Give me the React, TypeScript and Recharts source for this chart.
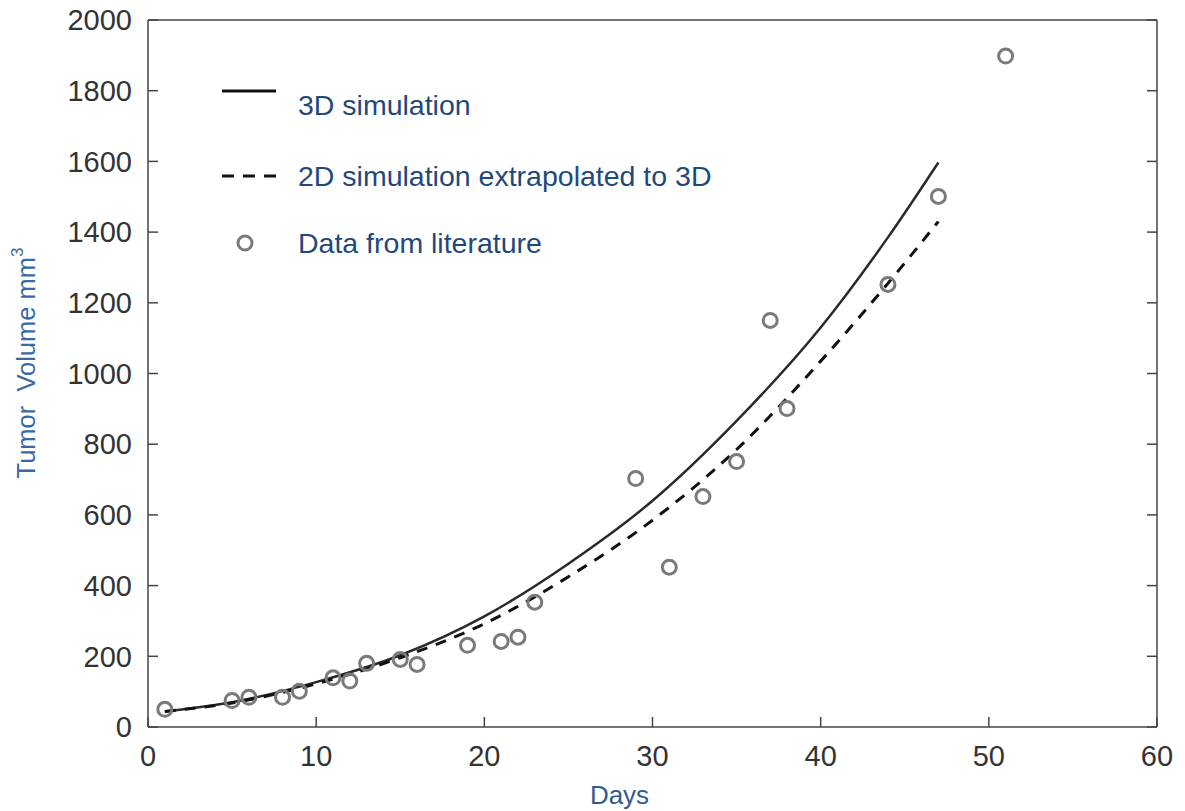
import React from "react";
import {
  ComposedChart,
  Line,
  Scatter,
  XAxis,
  YAxis,
  Legend,
} from "recharts";

// Literature data (days, tumor volume mm^3)
const litDays = [1, 5, 6, 8, 9, 11, 12, 13, 15, 16, 19, 21, 22, 23, 29, 31, 33, 35, 37, 38, 44, 47, 51];
const litVolumes = [50, 75, 84, 84, 101, 139, 130, 180, 191, 177, 231, 242, 254, 353, 703, 452, 652, 751, 1150, 901, 1252, 1501, 1898];

// Simulation curves
const simDays = [1, 5, 10, 15, 20, 25, 30, 35, 40, 44, 47];
const sim3D = [44, 70, 127, 203, 313, 462, 640, 866, 1130, 1385, 1597];
const sim2Dto3D = [44, 68, 122, 196, 292, 425, 585, 785, 1035, 1255, 1430];

// Axis ticks
const xTicks = [0, 10, 20, 30, 40, 50, 60];
const yTicks = [0, 200, 400, 600, 800, 1000, 1200, 1400, 1600, 1800, 2000];

const litData = litDays.map((d, i) => ({ day: d, volume: litVolumes[i] }));
const sim3DData = simDays.map((d, i) => ({ day: d, v: sim3D[i] }));
const sim2DData = simDays.map((d, i) => ({ day: d, v: sim2Dto3D[i] }));

const FONT = "'Liberation Sans', Arial, Helvetica, sans-serif";
const AXIS_COLOR = "#444";
const TICK_COLOR = "#333";
const MARKER_COLOR = "#7a7a7a";
const LEGEND_TEXT = "#1f497d";
const LEGEND_FS = 28.5;

const Marker = (props: any) => {
  const { cx, cy } = props;
  if (cx == null || cy == null) return null;
  return <circle cx={cx} cy={cy} r={7} fill="none" stroke={MARKER_COLOR} strokeWidth={3} />;
};

const LegendContent = () => (
  <svg width={560} height={200} style={{ overflow: "visible" }}>
    <line x1={0} y1={21} x2={54} y2={21} stroke="#111" strokeWidth={3} />
    <text x={76} y={35} dominantBaseline="central" fontFamily={FONT} fontSize={LEGEND_FS} fill={LEGEND_TEXT}>
      3D simulation
    </text>
    <line x1={0} y1={106} x2={54} y2={106} stroke="#111" strokeWidth={3} strokeDasharray="12 9" />
    <text x={76} y={106} dominantBaseline="central" fontFamily={FONT} fontSize={LEGEND_FS} fill={LEGEND_TEXT}>
      2D simulation extrapolated to 3D
    </text>
    <circle cx={23} cy={173} r={7} fill="none" stroke={MARKER_COLOR} strokeWidth={3} />
    <text x={76} y={173} dominantBaseline="central" fontFamily={FONT} fontSize={LEGEND_FS} fill={LEGEND_TEXT}>
      Data from literature
    </text>
  </svg>
);

export default function App() {
  return (
    <div style={{ position: "absolute", left: 0, top: 0, width: 1185, height: 811, background: "#fff" }}>
      <ComposedChart
        width={1185}
        height={811}
        margin={{ top: 0, right: 0, bottom: 0, left: 0 }}
        style={{ fontFamily: FONT }}
      >
        <XAxis
          xAxisId={0}
          dataKey="day"
          type="number"
          domain={[0, 60]}
          ticks={xTicks}
          height={84}
          tickSize={-10}
          tickMargin={28}
          stroke={AXIS_COLOR}
          strokeWidth={1.5}
          tick={{ fill: TICK_COLOR, fontSize: 29, fontFamily: FONT }}
          allowDataOverflow
          label={{
            content: (p: any) => {
              const vb = p.viewBox || { x: 148, y: 727, width: 1009, height: 84 };
              return (
                <text
                  x={vb.x + vb.width / 2 - 33}
                  y={795}
                  textAnchor="middle"
                  dominantBaseline="central"
                  fontFamily={FONT}
                  fontSize={26}
                  fill="#2f5b90"
                >
                  Days
                </text>
              );
            },
          }}
        />
        <XAxis
          xAxisId="top"
          orientation="top"
          type="number"
          domain={[0, 60]}
          ticks={xTicks}
          height={20}
          tickSize={-10}
          tickFormatter={() => ""}
          stroke={AXIS_COLOR}
          strokeWidth={1.5}
          allowDataOverflow
        />
        <YAxis
          yAxisId={0}
          type="number"
          domain={[0, 2000]}
          ticks={yTicks}
          width={148}
          tickSize={-10}
          tickMargin={26}
          stroke={AXIS_COLOR}
          strokeWidth={1.5}
          tick={{ fill: TICK_COLOR, fontSize: 29, fontFamily: FONT }}
          allowDataOverflow
          label={{
            content: () => (
              <text
                x={0}
                y={0}
                transform="translate(26, 363) rotate(-90)"
                textAnchor="middle"
                dominantBaseline="central"
                fontFamily={FONT}
                fontSize={25.5}
                fill="#3a6aa3"
              >
                {"Tumor\u00A0 Volume mm"}
                <tspan dy={-9} fontSize={17}>3</tspan>
              </text>
            ),
          }}
        />
        <YAxis
          yAxisId="right"
          orientation="right"
          type="number"
          domain={[0, 2000]}
          ticks={yTicks}
          width={28}
          tickSize={-10}
          tickFormatter={() => ""}
          stroke={AXIS_COLOR}
          strokeWidth={1.5}
          allowDataOverflow
        />
        <Legend
          layout="horizontal"
          verticalAlign="middle"
          align="center"
          content={() => <LegendContent />}
          wrapperStyle={{ position: "absolute", left: 222, top: 70, width: 560, height: 200 }}
        />
        <Line
          data={sim3DData}
          dataKey="v"
          type="monotone"
          stroke="#2a2a2a"
          strokeWidth={2.5}
          dot={false}
          activeDot={false}
          isAnimationActive={false}
          legendType="none"
        />
        <Line
          data={sim2DData}
          dataKey="v"
          type="monotone"
          stroke="#111"
          strokeWidth={3}
          strokeDasharray="11 9"
          dot={false}
          activeDot={false}
          isAnimationActive={false}
          legendType="none"
        />
        <Scatter
          data={litData}
          dataKey="volume"
          shape={<Marker />}
          isAnimationActive={false}
          legendType="none"
        />
      </ComposedChart>
    </div>
  );
}
